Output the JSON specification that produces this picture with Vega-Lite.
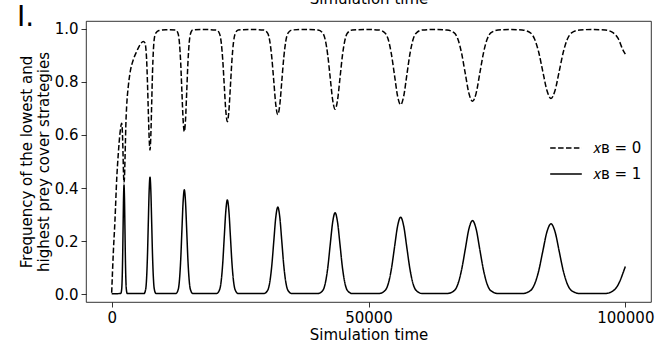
{
  "$schema": "https://vega.github.io/schema/vega-lite/v6.json",
  "width": 565,
  "height": 281,
  "autosize": {"type": "none"},
  "padding": {"left": 86, "top": 21, "right": 14, "bottom": 40},
  "background": "white",
  "config": {
    "font": "DejaVu Sans",
    "view": {"stroke": "black", "strokeWidth": 0.8},
    "axis": {"grid": false, "domain": false, "labelFont": "DejaVu Sans", "titleFont": "DejaVu Sans", "labelFontSize": 15, "titleFontSize": 15, "titleFontWeight": "normal", "labelColor": "black", "titleColor": "black", "tickColor": "black", "tickSize": 5, "tickWidth": 0.8}
  },
  "title": {"text": "I.", "anchor": "start", "frame": "group", "dx": -69, "dy": 63, "fontSize": 28, "fontWeight": "normal", "font": "DejaVu Sans", "color": "black", "baseline": "alphabetic", "offset": 0},
  "datasets": {
    "solid": [
      {"t": 0, "v": 0.001}, {"t": 1770, "v": 0.002}, {"t": 1950, "v": 0.019}, {"t": 2040, "v": 0.056}, {"t": 2130, "v": 0.134}, {"t": 2220, "v": 0.25}, {"t": 2310, "v": 0.363}, {"t": 2400, "v": 0.411}, {"t": 2490, "v": 0.363}, {"t": 2580, "v": 0.25}, {"t": 2670, "v": 0.134}, {"t": 2760, "v": 0.056}, {"t": 2850, "v": 0.019}, {"t": 3030, "v": 0.002},
      {"t": 6305, "v": 0.002}, {"t": 6635, "v": 0.02}, {"t": 6800, "v": 0.061}, {"t": 6965, "v": 0.144}, {"t": 7130, "v": 0.268}, {"t": 7295, "v": 0.389}, {"t": 7460, "v": 0.441}, {"t": 7625, "v": 0.389}, {"t": 7790, "v": 0.268}, {"t": 7955, "v": 0.144}, {"t": 8120, "v": 0.061}, {"t": 8285, "v": 0.02}, {"t": 8615, "v": 0.002},
      {"t": 12495, "v": 0.002}, {"t": 12965, "v": 0.018}, {"t": 13200, "v": 0.054}, {"t": 13435, "v": 0.128}, {"t": 13670, "v": 0.239}, {"t": 13905, "v": 0.347}, {"t": 14140, "v": 0.393}, {"t": 14375, "v": 0.347}, {"t": 14610, "v": 0.239}, {"t": 14845, "v": 0.128}, {"t": 15080, "v": 0.054}, {"t": 15315, "v": 0.018}, {"t": 15785, "v": 0.002},
      {"t": 20420, "v": 0.002}, {"t": 21020, "v": 0.017}, {"t": 21320, "v": 0.049}, {"t": 21620, "v": 0.116}, {"t": 21920, "v": 0.216}, {"t": 22220, "v": 0.313}, {"t": 22520, "v": 0.355}, {"t": 22820, "v": 0.313}, {"t": 23120, "v": 0.216}, {"t": 23420, "v": 0.116}, {"t": 23720, "v": 0.049}, {"t": 24020, "v": 0.017}, {"t": 24620, "v": 0.002},
      {"t": 29610, "v": 0.002}, {"t": 30390, "v": 0.015}, {"t": 30780, "v": 0.045}, {"t": 31170, "v": 0.107}, {"t": 31560, "v": 0.199}, {"t": 31950, "v": 0.29}, {"t": 32340, "v": 0.328}, {"t": 32730, "v": 0.29}, {"t": 33120, "v": 0.199}, {"t": 33510, "v": 0.107}, {"t": 33900, "v": 0.045}, {"t": 34290, "v": 0.015}, {"t": 35070, "v": 0.002},
      {"t": 40175, "v": 0.002}, {"t": 41125, "v": 0.014}, {"t": 41600, "v": 0.042}, {"t": 42075, "v": 0.1}, {"t": 42550, "v": 0.187}, {"t": 43025, "v": 0.271}, {"t": 43500, "v": 0.307}, {"t": 43975, "v": 0.271}, {"t": 44450, "v": 0.187}, {"t": 44925, "v": 0.1}, {"t": 45400, "v": 0.042}, {"t": 45875, "v": 0.014}, {"t": 46825, "v": 0.002},
      {"t": 52060, "v": 0.002}, {"t": 53260, "v": 0.014}, {"t": 53860, "v": 0.04}, {"t": 54460, "v": 0.095}, {"t": 55060, "v": 0.176}, {"t": 55660, "v": 0.256}, {"t": 56260, "v": 0.29}, {"t": 56860, "v": 0.256}, {"t": 57460, "v": 0.176}, {"t": 58060, "v": 0.095}, {"t": 58660, "v": 0.04}, {"t": 59260, "v": 0.014}, {"t": 60460, "v": 0.002},
      {"t": 65280, "v": 0.002}, {"t": 66700, "v": 0.013}, {"t": 67410, "v": 0.038}, {"t": 68120, "v": 0.091}, {"t": 68830, "v": 0.168}, {"t": 69540, "v": 0.245}, {"t": 70250, "v": 0.277}, {"t": 70960, "v": 0.245}, {"t": 71670, "v": 0.168}, {"t": 72380, "v": 0.091}, {"t": 73090, "v": 0.038}, {"t": 73800, "v": 0.013}, {"t": 75220, "v": 0.002},
      {"t": 79930, "v": 0.002}, {"t": 81530, "v": 0.013}, {"t": 82330, "v": 0.037}, {"t": 83130, "v": 0.087}, {"t": 83930, "v": 0.161}, {"t": 84730, "v": 0.234}, {"t": 85530, "v": 0.265}, {"t": 86330, "v": 0.234}, {"t": 87130, "v": 0.161}, {"t": 87930, "v": 0.087}, {"t": 88730, "v": 0.037}, {"t": 89530, "v": 0.013}, {"t": 91130, "v": 0.002},
      {"t": 96100, "v": 0.002}, {"t": 97600, "v": 0.012}, {"t": 98600, "v": 0.035}, {"t": 99600, "v": 0.082}, {"t": 100000, "v": 0.104}
    ],
    "dashed": [
      {"t": 0, "v": 0.005}, {"t": 310, "v": 0.153}, {"t": 640, "v": 0.278}, {"t": 970, "v": 0.43}, {"t": 1290, "v": 0.53}, {"t": 1620, "v": 0.607}, {"t": 1950, "v": 0.644}, {"t": 2140, "v": 0.58}, {"t": 2220, "v": 0.52}, {"t": 2310, "v": 0.45}, {"t": 2400, "v": 0.42}, {"t": 2490, "v": 0.44}, {"t": 2580, "v": 0.5}, {"t": 2670, "v": 0.57}, {"t": 2760, "v": 0.64}, {"t": 2920, "v": 0.71}, {"t": 3230, "v": 0.783}, {"t": 3570, "v": 0.834}, {"t": 4210, "v": 0.884}, {"t": 4870, "v": 0.915}, {"t": 5510, "v": 0.94}, {"t": 6160, "v": 0.953},
      {"t": 6490, "v": 0.947}, {"t": 6635, "v": 0.93}, {"t": 6800, "v": 0.885}, {"t": 6965, "v": 0.8}, {"t": 7130, "v": 0.69}, {"t": 7295, "v": 0.59}, {"t": 7460, "v": 0.543}, {"t": 7625, "v": 0.6}, {"t": 7790, "v": 0.72}, {"t": 7955, "v": 0.84}, {"t": 8120, "v": 0.92}, {"t": 8285, "v": 0.962}, {"t": 8615, "v": 0.985}, {"t": 9200, "v": 0.994}, {"t": 10500, "v": 0.997},
      {"t": 12495, "v": 0.996}, {"t": 12965, "v": 0.98}, {"t": 13200, "v": 0.945}, {"t": 13435, "v": 0.873}, {"t": 13670, "v": 0.764}, {"t": 13905, "v": 0.658}, {"t": 14140, "v": 0.613}, {"t": 14375, "v": 0.658}, {"t": 14610, "v": 0.764}, {"t": 14845, "v": 0.873}, {"t": 15080, "v": 0.945}, {"t": 15315, "v": 0.98}, {"t": 15785, "v": 0.996}, {"t": 18000, "v": 0.998},
      {"t": 20420, "v": 0.996}, {"t": 21020, "v": 0.981}, {"t": 21320, "v": 0.95}, {"t": 21620, "v": 0.884}, {"t": 21920, "v": 0.786}, {"t": 22220, "v": 0.691}, {"t": 22520, "v": 0.65}, {"t": 22820, "v": 0.691}, {"t": 23120, "v": 0.786}, {"t": 23420, "v": 0.884}, {"t": 23720, "v": 0.95}, {"t": 24020, "v": 0.981}, {"t": 24620, "v": 0.996}, {"t": 27000, "v": 0.998},
      {"t": 29610, "v": 0.996}, {"t": 30390, "v": 0.983}, {"t": 30780, "v": 0.954}, {"t": 31170, "v": 0.893}, {"t": 31560, "v": 0.803}, {"t": 31950, "v": 0.714}, {"t": 32340, "v": 0.677}, {"t": 32730, "v": 0.714}, {"t": 33120, "v": 0.803}, {"t": 33510, "v": 0.893}, {"t": 33900, "v": 0.954}, {"t": 34290, "v": 0.983}, {"t": 35070, "v": 0.996}, {"t": 37600, "v": 0.998},
      {"t": 40175, "v": 0.996}, {"t": 41125, "v": 0.984}, {"t": 41600, "v": 0.957}, {"t": 42075, "v": 0.9}, {"t": 42550, "v": 0.815}, {"t": 43025, "v": 0.732}, {"t": 43500, "v": 0.697}, {"t": 43975, "v": 0.732}, {"t": 44450, "v": 0.815}, {"t": 44925, "v": 0.9}, {"t": 45400, "v": 0.957}, {"t": 45875, "v": 0.984}, {"t": 46825, "v": 0.996}, {"t": 49500, "v": 0.998},
      {"t": 52060, "v": 0.996}, {"t": 53260, "v": 0.984}, {"t": 53860, "v": 0.959}, {"t": 54460, "v": 0.905}, {"t": 55060, "v": 0.826}, {"t": 55660, "v": 0.747}, {"t": 56260, "v": 0.714}, {"t": 56860, "v": 0.747}, {"t": 57460, "v": 0.826}, {"t": 58060, "v": 0.905}, {"t": 58660, "v": 0.959}, {"t": 59260, "v": 0.984}, {"t": 60460, "v": 0.996}, {"t": 62900, "v": 0.998},
      {"t": 65280, "v": 0.996}, {"t": 66700, "v": 0.985}, {"t": 67410, "v": 0.961}, {"t": 68120, "v": 0.909}, {"t": 68830, "v": 0.833}, {"t": 69540, "v": 0.758}, {"t": 70250, "v": 0.727}, {"t": 70960, "v": 0.758}, {"t": 71670, "v": 0.833}, {"t": 72380, "v": 0.909}, {"t": 73090, "v": 0.961}, {"t": 73800, "v": 0.985}, {"t": 75220, "v": 0.996}, {"t": 77600, "v": 0.998},
      {"t": 79930, "v": 0.996}, {"t": 81530, "v": 0.985}, {"t": 82330, "v": 0.962}, {"t": 83130, "v": 0.913}, {"t": 83930, "v": 0.84}, {"t": 84730, "v": 0.769}, {"t": 85530, "v": 0.738}, {"t": 86330, "v": 0.769}, {"t": 87130, "v": 0.84}, {"t": 87930, "v": 0.913}, {"t": 88730, "v": 0.962}, {"t": 89530, "v": 0.985}, {"t": 91130, "v": 0.996}, {"t": 93600, "v": 0.998},
      {"t": 96100, "v": 0.996}, {"t": 97600, "v": 0.986}, {"t": 98600, "v": 0.964}, {"t": 99600, "v": 0.918}, {"t": 100000, "v": 0.905}
    ]
  },
  "layer": [
    {
      "data": {"name": "dashed"},
      "transform": [{"calculate": "'𝑥ʙ = 0'", "as": "series"}],
      "mark": {"type": "line", "color": "black", "strokeWidth": 1.5, "interpolate": "monotone", "clip": true},
      "encoding": {
        "x": {"field": "t", "type": "quantitative", "scale": {"domain": [-5000, 105000], "nice": false, "zero": false}, "axis": {"orient": "bottom", "values": [0, 50000, 100000], "format": "d", "title": "Simulation time", "labelPadding": 3, "titlePadding": 2}},
        "y": {"field": "v", "type": "quantitative", "scale": {"domain": [-0.03, 1.03], "nice": false, "zero": false}, "axis": {"values": [0, 0.2, 0.4, 0.6, 0.8, 1.0], "format": ".1f", "title": ["Frequency of the lowest and", "highest prey cover strategies"], "titlePadding": 3, "labelPadding": 3}},
        "strokeDash": {"field": "series", "type": "nominal", "scale": {"domain": ["𝑥ʙ = 0", "𝑥ʙ = 1"], "range": [[5.5, 2.4], [1, 0]]}, "legend": {"title": null, "orient": "none", "legendX": 463, "legendY": 110, "symbolType": "stroke", "symbolSize": 1000, "symbolStrokeWidth": 1.5, "symbolStrokeColor": "black", "labelFontSize": 15, "labelFont": "DejaVu Sans", "labelColor": "black", "rowPadding": 1, "labelOffset": 10}}
      }
    },
    {
      "data": {"name": "solid"},
      "transform": [{"calculate": "'𝑥ʙ = 1'", "as": "series"}],
      "mark": {"type": "line", "color": "black", "strokeWidth": 1.5, "interpolate": "monotone", "clip": true},
      "encoding": {
        "x": {"field": "t", "type": "quantitative", "axis": null},
        "y": {"field": "v", "type": "quantitative"},
        "strokeDash": {"field": "series", "type": "nominal"}
      }
    },
    {
      "data": {"name": "solid"},
      "mark": {"type": "rule", "opacity": 0},
      "encoding": {
        "x": {"field": "t", "type": "quantitative", "axis": {"orient": "top", "title": "Simulation time", "labels": false, "ticks": false, "domain": false, "titlePadding": 15}}
      }
    }
  ],
  "resolve": {"axis": {"x": "independent"}}
}
